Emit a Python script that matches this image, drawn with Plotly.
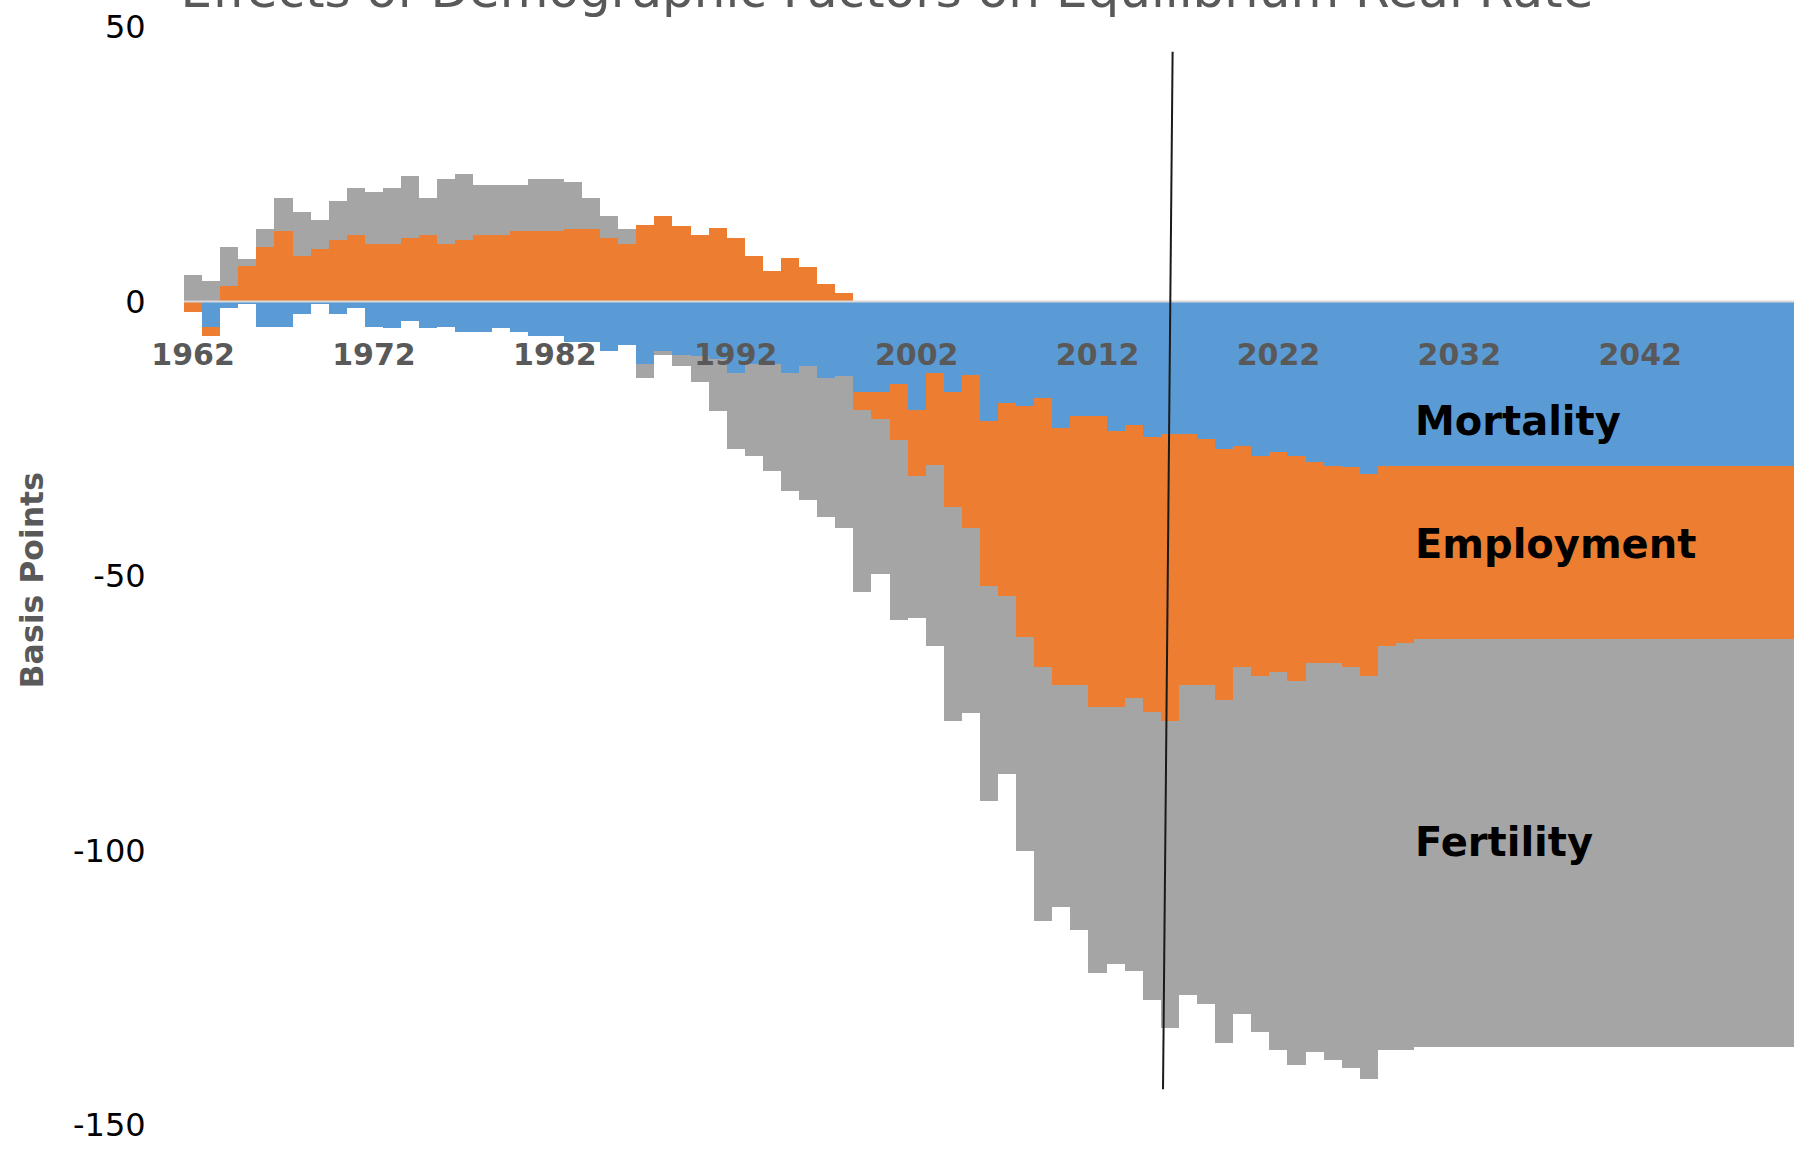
import plotly.graph_objects as go

# ---------------- data (basis points) ----------------
years = list(range(1962, 2051))

mortality = [
    0.0, -4.6, -1.2, -0.5, -4.6, -4.6, -2.2, -0.5, -2.2, -1.2,
    -4.6, -4.9, -3.6, -4.9, -4.6, -5.6, -5.6, -4.9, -5.6, -6.2,
    -6.2, -7.3, -7.3, -9.0, -8.0, -11.3, -9.0, -9.7, -10.0, -10.5,
    -13.0, -11.4, -11.4, -13.0, -11.8, -14.0, -13.5, -16.4, -16.4, -15.0,
    -19.7, -13.1, -16.4, -13.4, -21.7, -18.5, -19.1, -17.5, -23.1, -20.8,
    -20.8, -23.5, -22.5, -24.7, -24.2, -24.2, -25.1, -26.8, -26.4, -28.1,
    -27.5, -28.2, -29.2, -29.9, -30.1, -31.4, -29.9, -29.9, -29.9, -29.9,
    -29.9, -29.9, -29.9, -29.9, -29.9, -29.9, -29.9, -29.9, -29.9, -29.9,
    -29.9, -29.9, -29.9, -29.9, -29.9, -29.9, -29.9, -29.9, -29.9,
]

employment = [
    -1.9, -1.7, 2.8, 6.5, 9.9, 12.9, 8.2, 9.5, 11.2, 12.2,
    10.5, 10.5, 11.5, 12.2, 10.5, 11.2, 12.2, 12.2, 12.9, 12.9,
    12.9, 13.2, 13.2, 11.5, 10.5, 13.9, 15.5, 13.8, 12.2, 13.3,
    11.6, 8.3, 5.6, 7.9, 6.2, 3.2, 1.5, -3.3, -5.0, -10.2,
    -12.1, -16.7, -21.1, -27.8, -30.2, -35.2, -42.0, -49.0, -46.7, -49.0,
    -53.0, -50.3, -49.7, -50.1, -52.3, -45.6, -44.7, -45.7, -40.2, -40.1,
    -40.0, -41.0, -36.7, -36.0, -36.4, -36.8, -32.9, -32.3, -31.5, -31.5,
    -31.5, -31.5, -31.5, -31.5, -31.5, -31.5, -31.5, -31.5, -31.5, -31.5,
    -31.5, -31.5, -31.5, -31.5, -31.5, -31.5, -31.5, -31.5, -31.5,
]

fertility = [
    4.8, 3.8, 7.1, 1.3, 3.3, 6.0, 8.1, 5.4, 7.1, 8.4,
    9.4, 10.1, 11.4, 6.7, 11.8, 12.1, 9.1, 9.1, 8.4, 9.4,
    9.4, 8.5, 5.7, 4.0, 2.7, -2.7, -0.7, -2.0, -4.7, -9.5,
    -13.8, -16.8, -19.4, -21.5, -24.3, -25.2, -27.7, -33.2, -28.3, -32.8,
    -25.9, -32.9, -38.9, -33.7, -39.0, -32.3, -39.0, -46.3, -40.4, -44.7,
    -48.5, -46.8, -49.8, -52.5, -55.8, -56.6, -58.1, -62.5, -63.1, -64.9,
    -68.8, -69.8, -70.8, -72.2, -73.2, -73.5, -73.5, -74.1, -74.4, -74.4,
    -74.4, -74.4, -74.4, -74.4, -74.4, -74.4, -74.4, -74.4, -74.4, -74.4,
    -74.4, -74.4, -74.4, -74.4, -74.4, -74.4, -74.4, -74.4, -74.4,
]

x_tick_values = [1962, 1972, 1982, 1992, 2002, 2012, 2022, 2032, 2042]
x_tick_labels = ["1962", "1972", "1982", "1992", "2002", "2012", "2022", "2032", "2042"]
y_tick_values = [50, 0, -50, -100, -150]
y_tick_labels = ["50", "0", "-50", "-100", "-150"]

title_text = "Effects of Demographic Factors on Equilibrium Real Rate"
y_title = "Basis Points"
series_labels = ["Mortality", "Employment", "Fertility"]
label_positions = [-21.7, -44.1, -98.5]

# vertical marker line (start of projection)
marker_line_x = [2016.15, 2015.62]
marker_line_y = [45.5, -143.5]

# ---------------- styling ----------------
BLUE = "#5B9BD5"
ORANGE = "#ED7D31"
GRAY = "#A5A5A5"

fig = go.Figure()
for name, vals, col in [("Mortality", mortality, BLUE),
                        ("Employment", employment, ORANGE),
                        ("Fertility", fertility, GRAY)]:
    fig.add_bar(x=years, y=vals, name=name,
                marker=dict(color=col, line=dict(width=0)))

fig.update_layout(
    barmode="relative",
    bargap=0,
    width=1802,
    height=1152,
    margin=dict(l=184, r=8, t=27, b=18),
    showlegend=False,
    plot_bgcolor="white",
    paper_bgcolor="white",
    title=dict(text=title_text, x=887 / 1802, xanchor="center",
               xref="container", yref="container",
               y=1 - 7 / 1152, yanchor="bottom",
               font=dict(family="DejaVu Sans", size=50, color="#595959")),
    xaxis=dict(range=[1961.5, 2050.5], tickmode="array",
               tickvals=x_tick_values, ticktext=x_tick_labels,
               anchor="free", position=0.75,
               showgrid=False, zeroline=False, showline=False,
               ticks="outside", ticklen=26, tickcolor="rgba(0,0,0,0)",
               ticklabeloverflow="allow",
               tickfont=dict(family="DejaVu Sans", size=30, color="#595959",
                             weight="bold")),
    yaxis=dict(range=[-150, 50], tickmode="array",
               tickvals=y_tick_values, ticktext=y_tick_labels,
               showgrid=False, zeroline=False, showline=False,
               ticks="outside", ticklen=31, tickcolor="rgba(0,0,0,0)",
               ticklabeloverflow="allow",
               tickfont=dict(family="DejaVu Sans", size=32, color="#000000")),
)

# zero axis line drawn over bars
fig.add_shape(type="line", xref="paper", x0=0, x1=1, yref="y", y0=0, y1=0,
              line=dict(color="#D9D9D9", width=2), layer="above")
# vertical projection line
fig.add_shape(type="line", xref="x", yref="y",
              x0=marker_line_x[0], x1=marker_line_x[1],
              y0=marker_line_y[0], y1=marker_line_y[1],
              line=dict(color="#1A1A1A", width=2), layer="above")

for lab, ypos in zip(series_labels, label_positions):
    fig.add_annotation(text=lab, xref="paper", x=(1413 - 184) / 1610,
                       xanchor="left", yref="y", y=ypos, yanchor="middle",
                       showarrow=False,
                       font=dict(family="DejaVu Sans", size=40, color="#000000",
                                 weight="bold"))

fig.add_annotation(text=y_title, textangle=-90, xref="paper",
                   x=(32 - 184) / 1610, xanchor="center",
                   yref="y", y=-50.8, yanchor="middle", showarrow=False,
                   font=dict(family="DejaVu Sans", size=31.5, color="#595959",
                             weight="bold"))

fig.write_html("out.html",
               config={"displayModeBar": False},
               post_script="document.body.style.margin='0';"
                           "document.body.style.overflow='hidden';")
